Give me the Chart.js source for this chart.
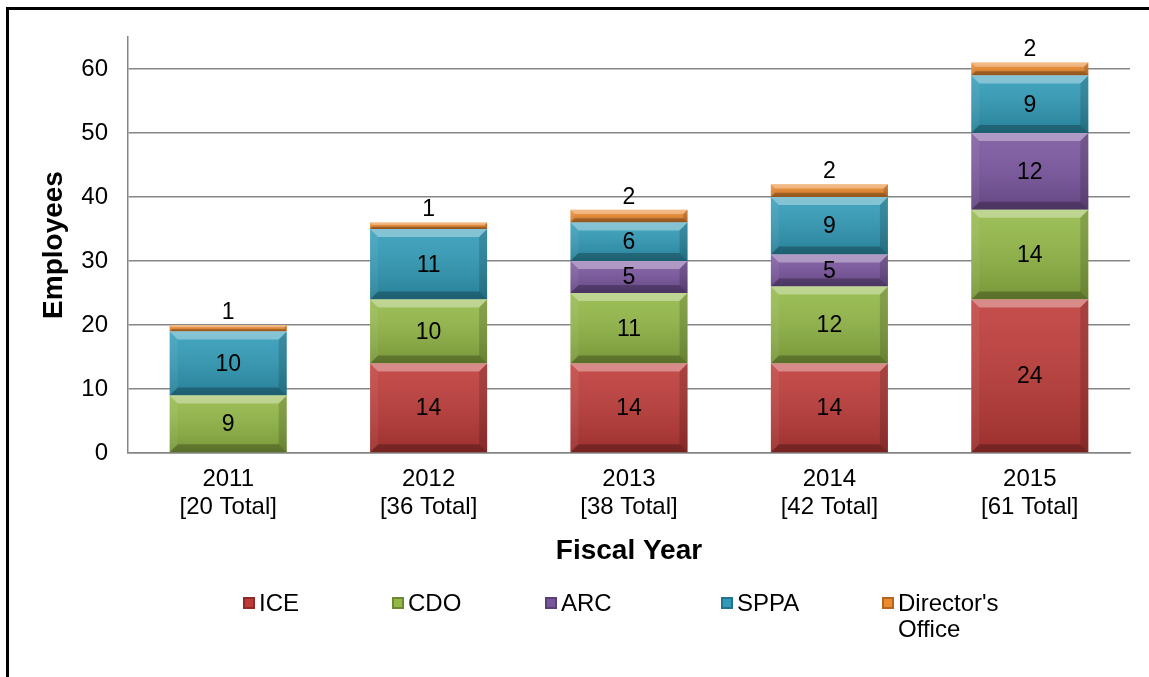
<!DOCTYPE html>
<html>
<head>
<meta charset="utf-8">
<script src="https://cdn.jsdelivr.net/npm/chart.js@4.4.1/dist/chart.umd.min.js"></script>
<style>
    html, body { margin: 0; padding: 0; background: #fff; }
    #wrap { position: relative; width: 1149px; height: 677px; overflow: hidden; font-family: "Liberation Sans", Arial, sans-serif; }
    #frame { position: absolute; left: 6px; top: 7px; width: 1200px; height: 700px; border-left: 3px solid #000; border-top: 3px solid #000; }
    #chartCanvas { position: absolute; left: 0; top: 0; }
    .legend-item { position: absolute; top: 590px; font-size: 24px; line-height: 26px; color: #000; }
    .legend-item .box { position: absolute; left: 0; top: 7px; width: 12px; height: 12px; box-sizing: border-box; }
    .legend-item span { display: block; margin-left: 16px; }
</style>
</head>
<body>
<div id="wrap">
    <div id="frame"></div>
    <canvas id="chartCanvas" width="1149" height="677"></canvas>
    <div id="legend"></div>
</div>
<script>
// chart data
const years = ['2011', '2012', '2013', '2014', '2015'];
const totals = ['[20 Total]', '[36 Total]', '[38 Total]', '[42 Total]', '[61 Total]'];
const iceValues = [0, 14, 14, 14, 24];
const cdoValues = [9, 10, 11, 12, 14];
const arcValues = [0, 0, 5, 5, 12];
const sppaValues = [10, 11, 6, 9, 9];
const directorValues = [1, 1, 2, 2, 2];
const seriesNames = ['ICE', 'CDO', 'ARC', 'SPPA', "Director's Office"];
const yTicks = [0, 10, 20, 30, 40, 50, 60];

const colors = ['#BE3A37', '#92B845', '#7A559F', '#2F9BB8', '#EE8A2E'];
const legendX = [243, 392, 545, 721, 882];
const fontFamily = '"Liberation Sans", Arial, sans-serif';

// bevel look like the office chart
const bevelPlugin = {
    id: 'bevel',
    afterDatasetDraw(chart, args) {
        const ctx = chart.ctx;
        args.meta.data.forEach(bar => {
            const p = bar.getProps(['x', 'y', 'base', 'width'], true);
            const h = p.base - p.y;
            if (h <= 0.5) return;
            const l = p.x - p.width / 2, r = p.x + p.width / 2, t = p.y, b = p.base;
            const bv = Math.min(8, h / 3);
            ctx.save();
            // face shading
            const g = ctx.createLinearGradient(0, t, 0, b);
            g.addColorStop(0, 'rgba(255,255,255,0.10)');
            g.addColorStop(1, 'rgba(0,0,0,0.18)');
            ctx.fillStyle = g;
            ctx.fillRect(l, t, r - l, h);
            // top
            ctx.fillStyle = 'rgba(255,255,255,0.35)';
            ctx.beginPath();
            ctx.moveTo(l, t); ctx.lineTo(r, t); ctx.lineTo(r - bv, t + bv); ctx.lineTo(l + bv, t + bv);
            ctx.closePath(); ctx.fill();
            // bottom
            ctx.fillStyle = 'rgba(0,0,0,0.25)';
            ctx.beginPath();
            ctx.moveTo(l, b); ctx.lineTo(r, b); ctx.lineTo(r - bv, b - bv); ctx.lineTo(l + bv, b - bv);
            ctx.closePath(); ctx.fill();
            // right side
            ctx.fillStyle = 'rgba(0,0,0,0.15)';
            ctx.beginPath();
            ctx.moveTo(r, t); ctx.lineTo(r, b); ctx.lineTo(r - bv, b - bv); ctx.lineTo(r - bv, t + bv);
            ctx.closePath(); ctx.fill();
            // left side
            ctx.fillStyle = 'rgba(255,255,255,0.06)';
            ctx.beginPath();
            ctx.moveTo(l, t); ctx.lineTo(l, b); ctx.lineTo(l + bv, b - bv); ctx.lineTo(l + bv, t + bv);
            ctx.closePath(); ctx.fill();
            ctx.restore();
        });
    },
    afterDatasetsDraw(chart) {
        const ctx = chart.ctx;
        ctx.save();
        ctx.font = '23px ' + fontFamily;
        ctx.fillStyle = '#000';
        ctx.textAlign = 'center';
        chart.data.datasets.forEach((ds, di) => {
            const meta = chart.getDatasetMeta(di);
            meta.data.forEach((bar, i) => {
                const v = ds.data[i];
                if (!v) return;
                const p = bar.getProps(['x', 'y', 'base'], true);
                if (di === chart.data.datasets.length - 1) {
                    ctx.textBaseline = 'bottom';
                    ctx.fillText(String(v), p.x, p.y - 1);
                } else {
                    ctx.textBaseline = 'middle';
                    ctx.fillText(String(v), p.x, (p.y + p.base) / 2 + 1);
                }
            });
        });
        ctx.restore();
    }
};

const valueArrays = [iceValues, cdoValues, arcValues, sppaValues, directorValues];
const datasets = seriesNames.map((name, i) => ({
    label: name,
    data: valueArrays[i],
    backgroundColor: colors[i],
    borderWidth: 0,
    categoryPercentage: 1,
    barPercentage: 0.584
}));

const ctx = document.getElementById('chartCanvas').getContext('2d');
const chartInstance = new Chart(ctx, {
    type: 'bar',
    data: {
        labels: years.map((y, i) => [y, totals[i]]),
        datasets: datasets
    },
    options: {
        responsive: false,
        animation: false,
        layout: { padding: { top: 37, right: 19, bottom: 107, left: 0 } },
        plugins: {
            legend: { display: false },
            tooltip: { enabled: false }
        },
        scales: {
            x: {
                stacked: true,
                grid: { display: false, drawTicks: false },
                border: { color: '#868686', width: 1.5 },
                ticks: {
                    color: '#000',
                    font: { family: fontFamily, size: 24, lineHeight: 1.167 },
                    padding: 12,
                    maxRotation: 0
                },
                title: {
                    display: true,
                    text: 'Fiscal Year',
                    color: '#000',
                    font: { family: fontFamily, size: 28, weight: 'bold' },
                    padding: { top: 0, bottom: 2 }
                },
                afterFit: s => { s.height = 117; }
            },
            y: {
                stacked: true,
                min: 0,
                max: 65,
                grid: { color: '#868686', lineWidth: 1.5, drawTicks: false },
                border: { color: '#868686', width: 1.5 },
                ticks: {
                    stepSize: 10,
                    color: '#000',
                    padding: 20,
                    font: { family: fontFamily, size: 24 }
                },
                afterBuildTicks: s => { s.ticks = yTicks.map(v => ({ value: v })); },
                title: {
                    display: true,
                    text: 'Employees',
                    color: '#000',
                    font: { family: fontFamily, size: 28, weight: 'bold' },
                    padding: { top: 37, bottom: 0 }
                },
                afterFit: s => { s.width = 128; }
            }
        }
    },
    plugins: [bevelPlugin]
});

// html legend
const legendEl = document.getElementById('legend');
seriesNames.forEach((name, i) => {
    const item = document.createElement('div');
    item.className = 'legend-item';
    item.style.left = legendX[i] + 'px';
    const box = document.createElement('div');
    box.className = 'box';
    box.style.border = '2px solid rgba(0,0,0,0.25)';
    box.style.backgroundColor = colors[i];
    const txt = document.createElement('span');
    txt.innerHTML = name === "Director's Office" ? "Director's<br>Office" : name;
    item.appendChild(box);
    item.appendChild(txt);
    legendEl.appendChild(item);
});
</script>
</body>
</html>
